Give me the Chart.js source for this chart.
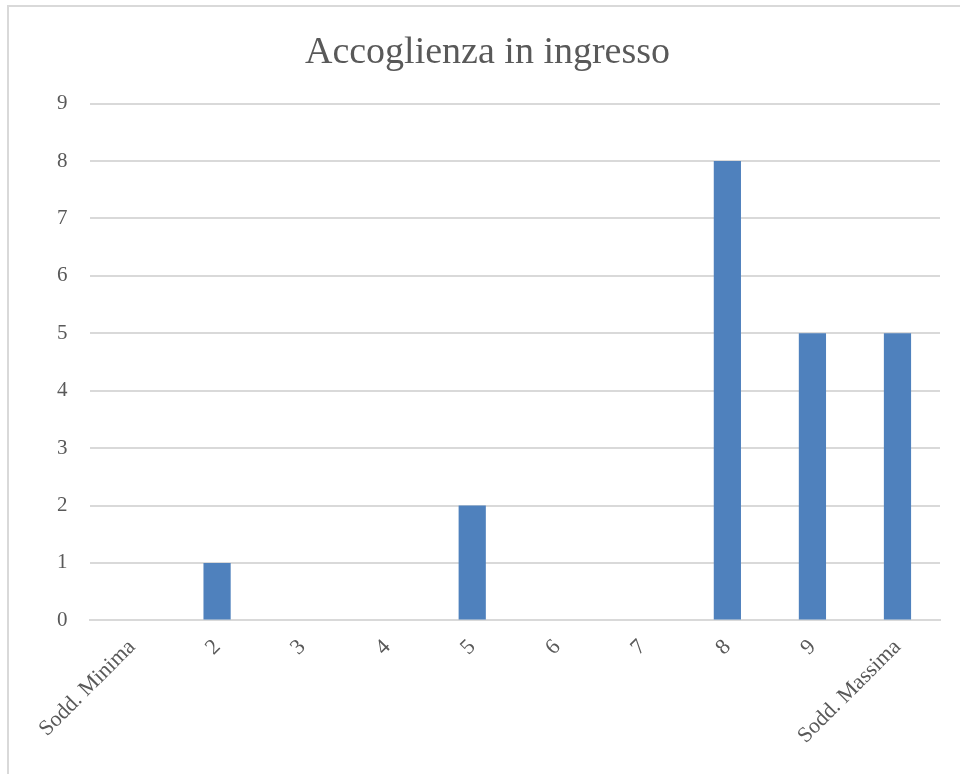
<!DOCTYPE html>
<html>
<head>
<meta charset="utf-8">
<script src="https://cdn.jsdelivr.net/npm/chart.js@4"></script>
<style>
    body { margin: 0; background: #fff; }
    #wrap { position: absolute; left: 7px; top: 5px; width: 960px; height: 774px; border: 2px solid #d9d9d9; box-sizing: border-box; }
</style>
</head>
<body>
<div id="wrap"><canvas id="chart"></canvas></div>
<script>
const categorie = ['Sodd. Minima', '2', '3', '4', '5', '6', '7', '8', '9', 'Sodd. Massima'];
const risposte = [0, 1, 0, 0, 2, 0, 0, 8, 5, 5];
const yMax = 9;

const testo = '#595959';
const griglia = '#d9d9d9';
const serif = "'Liberation Serif', 'DejaVu Serif', serif";

new Chart(document.getElementById('chart'), {
    type: 'bar',
    data: {
        labels: categorie,
        datasets: [{
            label: 'Accoglienza in ingresso',
            data: risposte,
            backgroundColor: '#4f81bd',
            categoryPercentage: 1,
            barPercentage: 0.32
        }]
    },
    options: {
        responsive: true,
        maintainAspectRatio: false,
        animation: false,
        layout: { padding: { left: 26, right: 25, top: 0, bottom: 22 } },
        plugins: {
            legend: { display: false },
            tooltip: { enabled: false },
            title: {
                display: true,
                text: 'Accoglienza in ingresso',
                color: testo,
                font: { family: serif, size: 38, weight: 'normal' },
                padding: { top: 23, bottom: 28 }
            }
        },
        scales: {
            x: {
                grid: { display: false },
                border: { color: griglia, width: 2 },
                ticks: {
                    color: testo,
                    font: { family: serif, size: 22 },
                    minRotation: 45,
                    maxRotation: 45,
                    padding: 6
                }
            },
            y: {
                min: 0,
                max: yMax,
                grid: { color: griglia, lineWidth: 2, drawTicks: false },
                border: { display: false },
                ticks: {
                    stepSize: 1,
                    color: testo,
                    font: { family: serif, size: 21 },
                    padding: 22
                }
            }
        }
    }
});
</script>
</body>
</html>
